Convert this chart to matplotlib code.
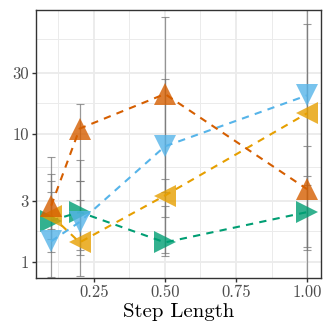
import numpy as np
import matplotlib
matplotlib.use("Agg")
import matplotlib.pyplot as plt
from matplotlib.ticker import FixedLocator, NullFormatter

plt.rcParams['font.family'] = ['cmr10', 'DejaVu Serif']
plt.rcParams['mathtext.fontset'] = 'cm'
plt.rcParams['axes.formatter.use_mathtext'] = True

# step lengths on the x axis
step_length = [0.1, 0.2, 0.5, 1.0]

# each series: values, lower and upper end of the error bar
green_vals = [2.1, 2.45, 1.42, 2.45]
green_lo = [1.2, 1.24, 1.12, 1.24]
green_hi = [4.3, 4.3, 2.73, 8.0]

blue_vals = [1.45, 2.05, 8.0, 20.0]
blue_lo = [0.76, 1.13, 1.18, 4.0]
blue_hi = [3.5, 6.2, 27.0, 150.0]

orange_vals = [2.3, 1.42, 3.3, 14.5]
orange_lo = [1.5, 0.78, 2.25, 1.31]
orange_hi = [4.9, 3.05, 4.45, 72.0]

verm_vals = [2.75, 11.0, 20.5, 3.7]
verm_lo = [1.8, 4.3, 3.5, 0.5]
verm_hi = [6.6, 17.0, 82.0, 4.7]

series = [
    (green_vals, green_lo, green_hi, '#009E73', '>'),
    (blue_vals, blue_lo, blue_hi, '#56B4E9', 'v'),
    (orange_vals, orange_lo, orange_hi, '#E69F00', '<'),
    (verm_vals, verm_lo, verm_hi, '#D55E00', '^'),
]

y_ticks = [1, 3, 10, 30]
x_ticks = [0.25, 0.5, 0.75, 1.0]

fig = plt.figure(figsize=(3.32, 3.32), dpi=100)
ax = fig.add_axes([0.108, 0.163, 0.859, 0.807])

# error bars first, in grey
for vals, lo, hi, color, marker in series:
    vals = np.array(vals)
    yerr = [vals - np.array(lo), np.array(hi) - vals]
    ax.errorbar(step_length, vals, yerr=yerr, fmt='none', ecolor='#777777',
                elinewidth=0.9, capsize=3, capthick=0.8, alpha=0.75, zorder=2)

for vals, lo, hi, color, marker in series:
    ax.plot(step_length, vals, color=color, lw=1.5, linestyle=(0, (3.5, 3)), zorder=3)
    ax.plot(step_length, vals, linestyle='none', marker=marker, markersize=16,
            color=color, alpha=0.8, markeredgewidth=0, zorder=4)

ax.set_yscale('log')
ax.set_ylim(0.75, 93)
ax.set_xlim(0.046, 1.049)

ax.yaxis.set_major_locator(FixedLocator(y_ticks))
ax.set_yticklabels([str(t) for t in y_ticks])
ax.yaxis.set_minor_locator(FixedLocator([np.sqrt(3), np.sqrt(30), np.sqrt(300), np.sqrt(3000)]))
ax.yaxis.set_minor_formatter(NullFormatter())
ax.xaxis.set_major_locator(FixedLocator(x_ticks))
ax.set_xticklabels(['0.25', '0.50', '0.75', '1.00'])
ax.xaxis.set_minor_locator(FixedLocator([0.125, 0.375, 0.625, 0.875]))

ax.grid(True, which='major', color='#ebebeb', lw=1.3, zorder=0)
ax.grid(True, which='minor', color='#ebebeb', lw=0.7, zorder=0)
ax.set_axisbelow(True)

ax.tick_params(which='major', length=3, width=1, color='#333333',
               labelsize=12, labelcolor='#4d4d4d', pad=2)
ax.tick_params(which='minor', length=0)
for sp in ax.spines.values():
    sp.set_color('#333333')
    sp.set_linewidth(1)

ax.set_xlabel('Step Length', fontsize=15, labelpad=2)

fig.savefig('out.png', dpi=100)
